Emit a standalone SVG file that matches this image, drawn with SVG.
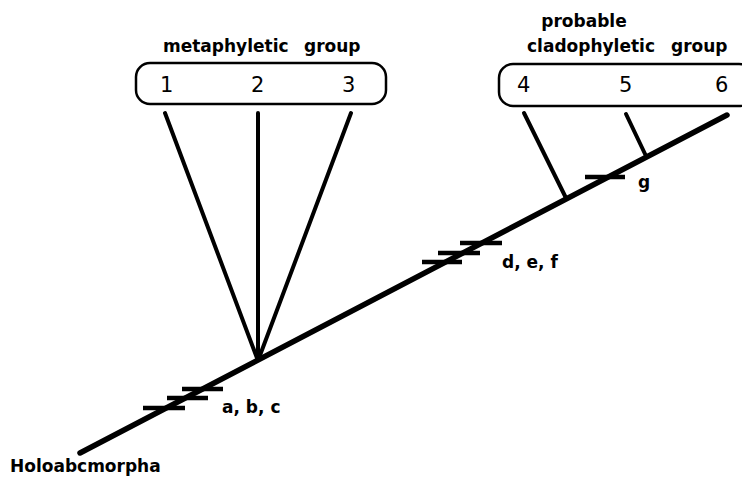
<svg xmlns="http://www.w3.org/2000/svg" width="742" height="477" viewBox="0 0 742 477">
<style>
.lbl{font-family:"DejaVu Sans",Verdana,sans-serif;font-size:17px;font-weight:bold;fill:#000}
.num{font-family:"DejaVu Sans",Verdana,sans-serif;font-size:21px;fill:#000}
.box{fill:none;stroke:#000;stroke-width:2.5}
.br{stroke:#000;stroke-width:4;stroke-linecap:round;fill:none}
.main{stroke:#000;stroke-width:5.5;stroke-linecap:round;fill:none}
.tk{stroke:#000;stroke-width:4.5;fill:none}
</style>
<rect width="742" height="477" fill="#fff"/>
<g id="connectors">
<path class="main" d="M80,453 L727,115"/>
<path class="br" d="M165,113 L257,358 M258,113 L258,358 M351,113 L259,358"/>
<path class="br" d="M524,113 L566,198 M626,114 L646,156"/>
<path class="tk" d="M143,408 H185 M167,398 H208 M182,389 H223"/>
<path class="tk" d="M422,262 H462 M438,253 H480 M460,243 H502"/>
<path class="tk" d="M585,177 H625"/>
</g>
<g id="meta">
<text class="lbl" x="163" y="52">metaphyletic</text>
<text class="lbl" x="304" y="52">group</text>
<rect class="box" x="136" y="63" width="250" height="41" rx="14"/>
<text class="num" x="160" y="92">1</text>
<text class="num" x="251" y="92">2</text>
<text class="num" x="342" y="92">3</text>
</g>
<g id="clado">
<text class="lbl" x="584" y="27" text-anchor="middle">probable</text>
<text class="lbl" x="527" y="52">cladophyletic</text>
<text class="lbl" x="671" y="52">group</text>
<rect class="box" x="499" y="64" width="254" height="42" rx="14"/>
<text class="num" x="517" y="92">4</text>
<text class="num" x="619" y="92">5</text>
<text class="num" x="715" y="92">6</text>
</g>
<g id="abc"><text class="lbl" x="222" y="413">a, b, c</text></g>
<g id="def"><text class="lbl" x="502" y="268">d, e, f</text></g>
<g id="gl"><text class="lbl" x="638" y="188">g</text></g>
<g id="root"><text class="lbl" x="10" y="472">Holoabcmorpha</text></g>
</svg>
